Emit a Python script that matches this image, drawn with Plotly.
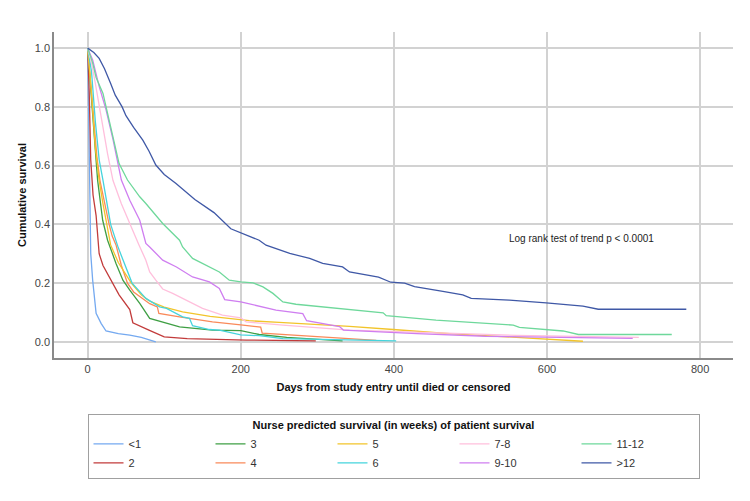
import plotly.graph_objects as go

# ---- data ----
groups = ["<1", "2", "3", "4", "5", "6", "7-8", "9-10", "11-12", ">12"]
colors = ["#74a9f0", "#c23b3b", "#3f9f44", "#f98a5a", "#f2c42a",
          "#45d4dc", "#ffbfdc", "#cf7ef0", "#6ed89b", "#3f58a6"]

days_lt1 = [0, 1, 2, 4, 6.5, 8.8, 11, 17.5, 24, 40, 55, 70, 89]
surv_lt1 = [1.0, 0.85, 0.60, 0.30, 0.21, 0.142, 0.097, 0.063, 0.037, 0.028, 0.023, 0.015, 0.0]

days_2 = [0, 2, 4, 7, 11, 15, 20, 28, 41, 55, 59, 80, 92, 100, 130, 207, 298]
surv_2 = [1.0, 0.85, 0.62, 0.50, 0.43, 0.30, 0.26, 0.22, 0.16, 0.11, 0.065, 0.04, 0.026, 0.017, 0.011, 0.006, 0.003]

days_3 = [0, 3, 6, 10, 13, 19.6, 26, 37, 46, 55, 68, 81, 111, 120, 163, 200, 224, 260, 333]
surv_3 = [1.0, 0.90, 0.80, 0.65, 0.55, 0.414, 0.346, 0.267, 0.21, 0.176, 0.131, 0.08, 0.058, 0.051, 0.04, 0.038, 0.025, 0.015, 0.003]

days_4 = [0, 4, 8, 12, 16, 22, 28, 32, 37, 44, 52, 60, 70, 81, 91, 93, 120, 163, 200, 226, 228, 300, 377]
surv_4 = [1.0, 0.88, 0.75, 0.63, 0.55, 0.47, 0.40, 0.36, 0.33, 0.26, 0.20, 0.17, 0.15, 0.13, 0.119, 0.097, 0.085, 0.068, 0.058, 0.05, 0.03, 0.018, 0.005]

days_5 = [0, 5, 10, 15, 20, 25, 30, 40, 50, 57, 70, 80, 100, 124, 160, 211, 250, 342, 399, 473, 560, 647]
surv_5 = [1.0, 0.85, 0.66, 0.55, 0.47, 0.40, 0.33, 0.27, 0.23, 0.20, 0.16, 0.14, 0.118, 0.102, 0.087, 0.072, 0.066, 0.053, 0.042, 0.028, 0.015, 0.002]

days_6 = [0, 5, 10, 15, 20, 25, 30, 40, 50, 58, 76, 94, 103, 124, 133, 137, 159, 172, 200, 224, 255, 300, 403]
surv_6 = [1.0, 0.92, 0.75, 0.62, 0.55, 0.47, 0.40, 0.32, 0.25, 0.20, 0.148, 0.119, 0.114, 0.085, 0.08, 0.055, 0.042, 0.04, 0.024, 0.021, 0.011, 0.008, 0.003]

days_78 = [0, 5, 10, 15, 20, 26, 33, 44, 55, 67, 76, 81, 89, 98, 111, 129, 150, 176, 200, 207, 255, 342, 450, 560, 720]
surv_78 = [1.0, 0.95, 0.88, 0.81, 0.73, 0.64, 0.55, 0.47, 0.40, 0.33, 0.278, 0.238, 0.21, 0.18, 0.165, 0.142, 0.114, 0.091, 0.082, 0.068, 0.057, 0.040, 0.030, 0.022, 0.015]

days_910 = [0, 6.5, 15, 24, 33, 39, 44, 55, 68, 76, 81, 98, 116, 137, 159, 172, 179, 200, 229, 246, 281, 286, 329, 334, 430, 520, 712]
surv_910 = [1.0, 0.96, 0.87, 0.79, 0.69, 0.62, 0.551, 0.482, 0.414, 0.335, 0.323, 0.278, 0.255, 0.221, 0.204, 0.182, 0.144, 0.136, 0.119, 0.108, 0.096, 0.072, 0.052, 0.04, 0.028, 0.019, 0.012]

days_1112 = [0, 6.5, 11, 20, 28, 33, 41, 52, 68, 76, 98, 120, 124, 137, 159, 172, 185, 200, 216, 229, 242, 255, 272, 329, 386, 390, 455, 556, 564, 621, 641, 763]
surv_1112 = [1.0, 0.95, 0.90, 0.846, 0.755, 0.70, 0.607, 0.551, 0.494, 0.471, 0.403, 0.346, 0.323, 0.284, 0.255, 0.238, 0.21, 0.204, 0.201, 0.187, 0.165, 0.136, 0.128, 0.114, 0.099, 0.089, 0.074, 0.057, 0.049, 0.037, 0.025, 0.025]

days_gt12 = [0, 8, 15, 22, 30, 36, 45, 50, 60, 72, 80, 89, 100, 115, 140, 165, 187, 200, 224, 233, 264, 290, 307, 333, 342, 380, 396, 414, 427, 464, 490, 501, 551, 599, 647, 667, 782]
surv_gt12 = [1.0, 0.985, 0.965, 0.93, 0.88, 0.84, 0.80, 0.77, 0.73, 0.687, 0.65, 0.602, 0.57, 0.54, 0.485, 0.44, 0.385, 0.371, 0.346, 0.329, 0.301, 0.284, 0.267, 0.255, 0.238, 0.22, 0.203, 0.2, 0.188, 0.172, 0.16, 0.148, 0.142, 0.133, 0.122, 0.111, 0.111]

series_days = [days_lt1, days_2, days_3, days_4, days_5, days_6, days_78, days_910, days_1112, days_gt12]
series_surv = [surv_lt1, surv_2, surv_3, surv_4, surv_5, surv_6, surv_78, surv_910, surv_1112, surv_gt12]

# legend laid out column-wise in two rows: <1,3,5,7-8,11-12 / 2,4,6,9-10,>12
legend_rank = [1, 6, 2, 7, 3, 8, 4, 9, 5, 10]

x_ticks = [0, 200, 400, 600, 800]
y_ticks = [0.0, 0.2, 0.4, 0.6, 0.8, 1.0]

FONT = "Liberation Sans, Arial, sans-serif"

fig = go.Figure()
for i in range(len(groups)):
    fig.add_trace(go.Scatter(
        x=series_days[i], y=series_surv[i], mode="lines", name=groups[i],
        line=dict(color=colors[i], width=1.3), legendrank=legend_rank[i],
        hoverinfo="x+y+name"))

fig.add_annotation(x=645, y=0.352, xref="x", yref="y", showarrow=False,
                   text="Log rank test of trend p < 0.0001",
                   font=dict(family=FONT, size=10, color="#222222"))

axis_common = dict(showgrid=True, gridcolor="#d2d2d2", gridwidth=1.5,
                   showline=True, linecolor="#8a8a8a", linewidth=1.5,
                   zeroline=False, ticks="", automargin=False,
                   tickfont=dict(family=FONT, size=11, color="#444444"))

# margins compensate for the 8px default page margin of the HTML body
fig.update_layout(
    width=750, height=501,
    margin=dict(l=46, r=25, t=24, b=151),
    paper_bgcolor="white", plot_bgcolor="white",
    font=dict(family=FONT, size=11, color="#222222"),
    xaxis=dict(range=[-44, 843], tickvals=x_ticks,
               title=dict(text="<b>Days from study entry until died or censored</b>",
                          font=dict(family=FONT, size=11, color="#111111"), standoff=9),
               **axis_common),
    yaxis=dict(range=[-0.055, 1.055], tickvals=y_ticks, tickformat=".1f",
               title=dict(text="<b>Cumulative survival</b>",
                          font=dict(family=FONT, size=11, color="#111111"), standoff=6),
               **axis_common),
    legend=dict(orientation="h", x=0.5, xanchor="center", y=-0.172, yanchor="top",
                entrywidth=77, entrywidthmode="pixels",
                bordercolor="#a0a0a0", borderwidth=1, bgcolor="white",
                font=dict(family=FONT, size=11, color="#333333"),
                title=dict(text="<b>Nurse predicted survival (in weeks) of patient survival</b>",
                           side="top center",
                           font=dict(family=FONT, size=11, color="#111111")),
                traceorder="normal", tracegroupgap=0),
    showlegend=True,
)

fig.write_html("out.html")
